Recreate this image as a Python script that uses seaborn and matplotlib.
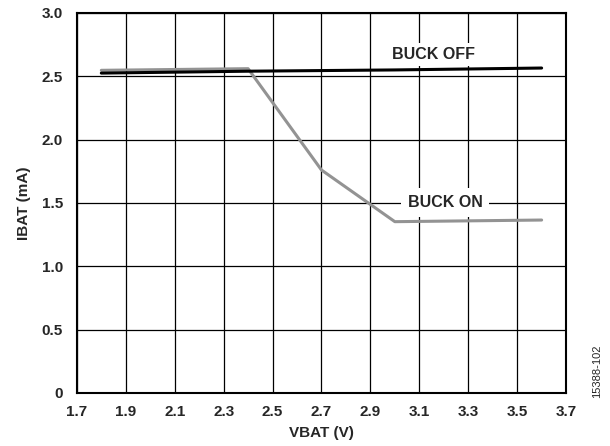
import matplotlib
matplotlib.use("Agg")
import matplotlib.pyplot as plt
import seaborn as sns
import pandas as pd

# Data
vbat_off = [1.8, 2.4, 3.0, 3.6]
ibat_off = [2.525, 2.54, 2.55, 2.565]
vbat_on = [1.8, 2.4, 2.7, 3.0, 3.6]
ibat_on = [2.547, 2.56, 1.76, 1.352, 1.365]
x_ticks = [1.7, 1.9, 2.1, 2.3, 2.5, 2.7, 2.9, 3.1, 3.3, 3.5, 3.7]
y_ticks = [0, 0.5, 1.0, 1.5, 2.0, 2.5, 3.0]
y_tick_labels = ["0", "0.5", "1.0", "1.5", "2.0", "2.5", "3.0"]

sns.set_style("white")
plt.rcParams['font.family'] = ['Liberation Sans', 'DejaVu Sans']
plt.rcParams['font.weight'] = 'bold'

df = pd.concat([
    pd.DataFrame({"VBAT": vbat_off, "IBAT": ibat_off, "mode": "BUCK OFF"}),
    pd.DataFrame({"VBAT": vbat_on, "IBAT": ibat_on, "mode": "BUCK ON"}),
])

fig = plt.figure(figsize=(6.1, 4.46), dpi=100)
ax = fig.add_axes([0.126, 0.119, 0.802, 0.852])

sns.lineplot(data=df, x="VBAT", y="IBAT", hue="mode",
             palette={"BUCK OFF": "#000000", "BUCK ON": "#939393"},
             hue_order=["BUCK ON", "BUCK OFF"],
             linewidth=2.2, legend=False, ax=ax, zorder=3, sort=False)

ax.set_xlim(1.7, 3.7)
ax.set_ylim(0, 3.0)
ax.set_xticks(x_ticks)
ax.set_xticklabels([f"{v:.1f}" for v in x_ticks])
ax.set_yticks(y_ticks)
ax.set_yticklabels(y_tick_labels)
ax.grid(True, color="black", linewidth=0.9, zorder=1)
ax.set_axisbelow(True)
for s in ax.spines.values():
    s.set_color("black")
    s.set_linewidth(1.5)
ax.tick_params(axis="both", length=0, labelsize=11)
ax.tick_params(axis="x", pad=9)
ax.tick_params(axis="y", pad=10)
for lab in ax.get_xticklabels() + ax.get_yticklabels():
    lab.set_fontweight("bold")

ax.set_xlabel("VBAT (V)", fontsize=11, fontweight="bold", labelpad=5)
ax.set_ylabel("IBAT (mA)", fontsize=11, fontweight="bold", labelpad=8)

ax.text(3.16, 2.67, "BUCK OFF", ha="center", va="center", fontsize=11.5,
        fontweight="bold", bbox=dict(facecolor="white", edgecolor="none", pad=3), zorder=4)
ax.text(3.205, 1.505, "BUCK ON", ha="center", va="center", fontsize=11.5,
        fontweight="bold", bbox=dict(facecolor="white", edgecolor="none", pad=5), zorder=4)

fig.text(0.979, 0.108, "15388-102", rotation=90, ha="center", va="bottom",
         fontsize=8, fontweight="normal")

fig.savefig("out.png", dpi=100)
